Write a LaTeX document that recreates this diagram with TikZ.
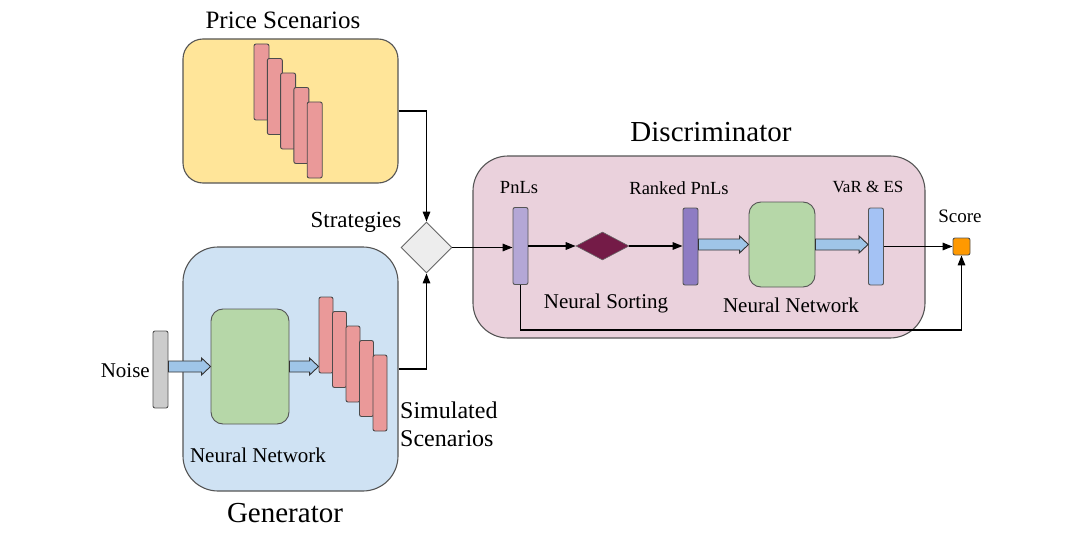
\documentclass[tikz,border=0pt]{standalone}
\usepackage{fontspec}
\setmainfont{Liberation Serif}
\usetikzlibrary{shapes.geometric,arrows.meta,calc}
\definecolor{cyel}{HTML}{FFE599}
\definecolor{cblue}{HTML}{CFE2F3}
\definecolor{cpink}{HTML}{EAD1DC}
\definecolor{cgreen}{HTML}{B6D7A8}
\definecolor{cred}{HTML}{EA9999}
\definecolor{cgray}{HTML}{CCCCCC}
\definecolor{cpnl}{HTML}{B4A7D6}
\definecolor{crank}{HTML}{8E7CC3}
\definecolor{cvar}{HTML}{A4C2F4}
\definecolor{cscore}{HTML}{FF9900}
\definecolor{cmaroon}{HTML}{741B47}
\definecolor{carrow}{HTML}{9FC5E8}
\definecolor{cborder}{HTML}{555555}
\tikzset{
  bigbox/.style={draw=cborder, line width=1.1pt, inner sep=0pt},
  sbar/.style={draw=black!70, line width=0.9pt, fill=cred, rounded corners=2pt, minimum width=#1, minimum height=76, inner sep=0pt},
  vbar/.style={draw=cborder, line width=0.9pt, rounded corners=2pt, minimum width=15, minimum height=77, inner sep=0pt},
  nnbox/.style={draw=cborder, line width=0.9pt, fill=cgreen, rounded corners=12pt, inner sep=0pt},
  conn/.style={line width=1.6pt, -{Triangle[length=10pt,width=7.5pt]}},
  blk/.style={draw=black!80, line width=0.9pt, fill=carrow},
  lbl/.style={font=\fontsize{21}{21}\selectfont, inner sep=0pt},
  slbl/.style={font=\fontsize{18.5}{18.5}\selectfont, inner sep=0pt},
  tlbl/.style={font=\fontsize{29}{29}\selectfont, inner sep=0pt},
}
\newcommand\blockarr[2]{%
  \path #1 coordinate (ba1) #2 coordinate (ba2);
  \draw[blk] ($(ba1)+(0,5.5)$) -- ($(ba2)+(-9,5.5)$) -- ($(ba2)+(-9,8.5)$) -- (ba2)
    -- ($(ba2)+(-9,-8.5)$) -- ($(ba2)+(-9,-5.5)$) -- ($(ba1)+(0,-5.5)$) -- cycle;}
\begin{document}
\begin{tikzpicture}[x=1pt,y=-1pt]
\useasboundingbox (0,0) rectangle (1080,535);
% Price scenarios
\node[bigbox, fill=cyel, rounded corners=20pt, minimum width=215, minimum height=144] (price) at (290.5,111) {};
\node[font=\fontsize{25}{25}\selectfont, inner sep=0pt] (pricelbl) at (283,20) {Price Scenarios};
\foreach \i in {0,...,4}{
  \node[sbar=15] (pb\i) at ({261.5+13.3*\i},{82+14.5*\i}) {};
}
% Generator
\node[bigbox, fill=cblue, rounded corners=35pt, minimum width=215, minimum height=244] (gen) at (290.5,369) {};
\node[tlbl] (genlbl) at (285,513) {Generator};
\node[draw=cborder, line width=0.9pt, fill=cgray, rounded corners=2pt, minimum width=15, minimum height=77, inner sep=0pt] (noise) at (160.5,369.5) {};
\node[lbl, anchor=east] (noiselbl) at (150,371) {Noise};
\node[nnbox, minimum width=78, minimum height=115] (gnn) at (250,366.5) {};
\node[lbl] (gnnlbl) at (258,455) {Neural Network};
\foreach \i in {0,...,4}{
  \node[sbar=14] (sb\i) at ({326+13.5*\i},{335+14.5*\i}) {};
}
\node[font=\fontsize{24}{28}\selectfont, inner sep=0pt, align=left, anchor=west] (simlbl) at (400,424) {Simulated\\Scenarios};
\blockarr{(noise.east |- gnn.west)}{(gnn.west)}
\blockarr{(gnn.east)}{(gnn.east -| sb0.west)}
% Strategies
\node[diamond, draw=black!60, line width=0.9pt, fill=black!7, minimum width=51, minimum height=51, inner sep=0pt] (strat) at (426.5,247.5) {};
\node[font=\fontsize{23}{23}\selectfont, inner sep=0pt] (stratlbl) at (356,222) {Strategies};
\draw[conn] (price.east) -| (strat.north);
\draw[conn] (gen.east) -| (strat.south);
% Discriminator
\node[bigbox, fill=cpink, rounded corners=35pt, minimum width=452, minimum height=182] (disc) at (699,247) {};
\node[tlbl] (disclbl) at (711,132) {Discriminator};
\node[vbar, fill=cpnl] (pnl) at (520.5,246) {};
\node[slbl] (pnllbl) at (519,188) {PnLs};
\node[diamond, draw=black!60, line width=0.6pt, fill=cmaroon, minimum width=53, minimum height=28, inner sep=0pt] (sort) at (602.5,246) {};
\node[lbl] (sortlbl) at (606,303) {Neural Sorting};
\node[vbar, fill=crank] (ranked) at (690.5,246.5) {};
\node[slbl] (rankedlbl) at (679,188) {Ranked PnLs};
\node[nnbox, minimum width=66, minimum height=85] (dnn) at (782,244.5) {};
\node[lbl] (dnnlbl) at (791,305) {Neural Network};
\node[vbar, fill=cvar] (var) at (876,246.5) {};
\node[font=\fontsize{17}{17}\selectfont, inner sep=0pt] (varlbl) at (868,187) {VaR \& ES};
\node[draw=cborder, line width=0.9pt, fill=cscore, rounded corners=2pt, minimum width=17, minimum height=17, inner sep=0pt] (score) at (961.5,246.5) {};
\node[font=\fontsize{19}{19}\selectfont, inner sep=0pt] (scorelbl) at (960,216) {Score};
\draw[conn] (strat.east) -- (strat.east -| pnl.west);
\draw[conn] (pnl.east |- sort.west) -- (sort.west);
\draw[conn] (sort.east) -- (sort.east -| ranked.west);
\blockarr{(ranked.east |- dnn.west)}{(dnn.west)}
\blockarr{(dnn.east)}{(dnn.east -| var.west)}
\draw[conn] (var.east |- score.west) -- (score.west);
\draw[conn] (pnl.south) -- ++(0,45) -| (score.south);
\end{tikzpicture}
\end{document}
